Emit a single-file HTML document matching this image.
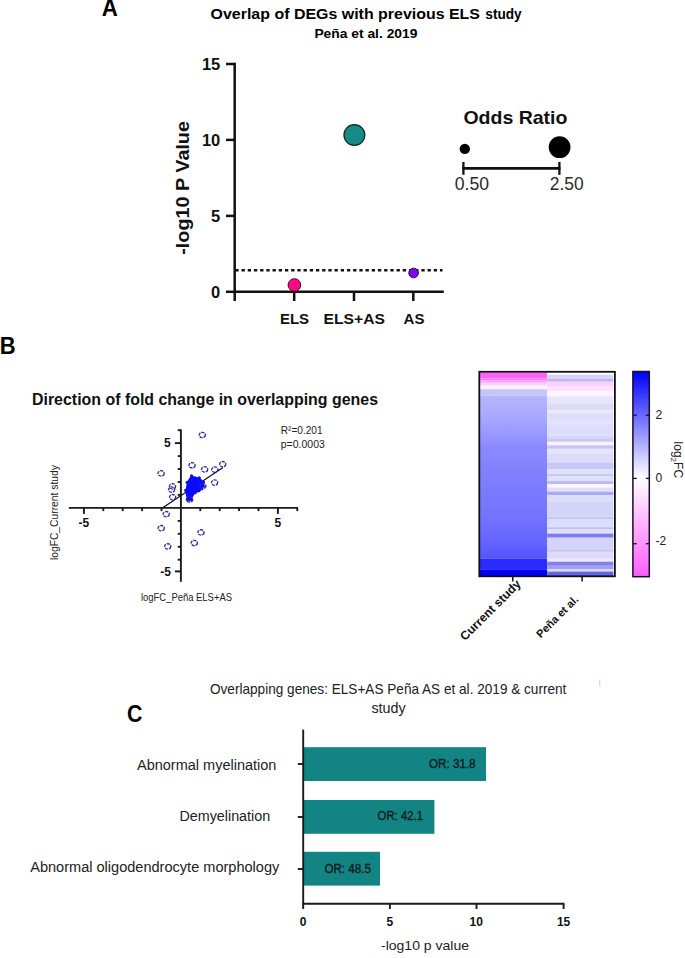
<!DOCTYPE html>
<html><head><meta charset="utf-8"><title>Figure</title>
<style>
html,body{margin:0;padding:0;background:#fff;}
body{width:685px;height:958px;overflow:hidden;}
svg{display:block;font-family:"Liberation Sans", sans-serif;}
</style></head>
<body>
<svg width="685" height="958" viewBox="0 0 685 958">
<rect width="685" height="958" fill="#fff"/>
<text x="101.7" y="16.4" font-size="23" font-weight="bold" textLength="16.1" lengthAdjust="spacingAndGlyphs">A</text>
<text x="210.6" y="19.4" font-size="15.4" font-weight="bold" textLength="269.4" lengthAdjust="spacingAndGlyphs">Overlap of DEGs with previous ELS</text>
<text x="485.3" y="19.4" font-size="14" font-weight="bold" textLength="36.4" lengthAdjust="spacingAndGlyphs">study</text>
<text x="314.4" y="38" font-size="13" font-weight="bold" textLength="103" lengthAdjust="spacingAndGlyphs">Peña et al. 2019</text>
<g stroke="#111" stroke-width="2.5" fill="none">
<line x1="234.7" y1="62.8" x2="234.7" y2="301"/>
<line x1="233.5" y1="291.8" x2="443.8" y2="291.8"/>
<line x1="226" y1="291.8" x2="235" y2="291.8"/>
<line x1="226" y1="215.9" x2="235" y2="215.9"/>
<line x1="226" y1="139.9" x2="235" y2="139.9"/>
<line x1="226" y1="64.0" x2="235" y2="64.0"/>
<line x1="294.2" y1="291.8" x2="294.2" y2="301"/>
<line x1="354" y1="291.8" x2="354" y2="301"/>
<line x1="413.3" y1="291.8" x2="413.3" y2="301"/>
</g>
<text x="220.3" y="297.7" font-size="16.5" font-weight="bold" text-anchor="end" fill="#111">0</text>
<text x="220.3" y="221.8" font-size="16.5" font-weight="bold" text-anchor="end" fill="#111">5</text>
<text x="220.3" y="145.8" font-size="16.5" font-weight="bold" text-anchor="end" fill="#111">10</text>
<text x="220.3" y="69.9" font-size="16.5" font-weight="bold" text-anchor="end" fill="#111">15</text>
<line x1="234" y1="270.2" x2="442.5" y2="270.2" stroke="#111" stroke-width="2.5" stroke-dasharray="3.3 2.9" stroke-dashoffset="4.85"/>
<text x="294.5" y="324" font-size="15" font-weight="bold" text-anchor="middle" fill="#111">ELS</text>
<text x="414" y="324" font-size="15" font-weight="bold" text-anchor="middle" fill="#111">AS</text>
<text x="323.6" y="324" font-size="15.3" font-weight="bold" textLength="61.4" lengthAdjust="spacingAndGlyphs" fill="#111">ELS+AS</text>
<text transform="translate(189.3,187.9) rotate(-90)" x="0" y="0" font-size="18" font-weight="bold" text-anchor="middle" textLength="133.7" lengthAdjust="spacingAndGlyphs" fill="#111">-log10 P Value</text>
<circle cx="294.4" cy="285" r="6.3" fill="#ff0888" stroke="#3a0a22" stroke-width="1"/>
<circle cx="354.4" cy="135" r="10.4" fill="#178a86" stroke="#0e2a2a" stroke-width="1.3"/>
<circle cx="413.6" cy="273" r="4.8" fill="#7f08ee" stroke="#2a0a50" stroke-width="1"/>
<text x="463.4" y="123.9" font-size="18.6" font-weight="bold" textLength="104" lengthAdjust="spacingAndGlyphs" fill="#111">Odds Ratio</text>
<circle cx="464.8" cy="148.9" r="5.2" fill="#000"/>
<circle cx="559.6" cy="147.2" r="10.9" fill="#000"/>
<g stroke="#111" fill="none"><line x1="462.3" y1="168.4" x2="560.5" y2="168.4" stroke-width="2.7"/><line x1="463.4" y1="162" x2="463.4" y2="174.8" stroke-width="2.3"/><line x1="559.4" y1="162" x2="559.4" y2="174.8" stroke-width="2.3"/></g>
<text x="454.8" y="189.9" font-size="18" textLength="34.2" lengthAdjust="spacingAndGlyphs" fill="#2a2a2a">0.50</text>
<text x="549.8" y="189.9" font-size="18" textLength="33.9" lengthAdjust="spacingAndGlyphs" fill="#2a2a2a">2.50</text>
<text x="-0.3" y="353.7" font-size="23" font-weight="bold" textLength="15.9" lengthAdjust="spacingAndGlyphs">B</text>
<text x="32" y="405" font-size="16.5" font-weight="bold" textLength="346" lengthAdjust="spacingAndGlyphs" fill="#111">Direction of fold change in overlapping genes</text>
<g stroke="#1a1a1a" fill="none" stroke-width="1.9">
<line x1="180.9" y1="429.4" x2="180.9" y2="581.8"/>
<line x1="68.8" y1="507.9" x2="298" y2="507.9"/>
<line x1="83.9" y1="507.9" x2="83.9" y2="513.9"/>
<line x1="103.3" y1="507.9" x2="103.3" y2="511.1"/>
<line x1="122.7" y1="507.9" x2="122.7" y2="511.1"/>
<line x1="142.1" y1="507.9" x2="142.1" y2="511.1"/>
<line x1="161.5" y1="507.9" x2="161.5" y2="511.1"/>
<line x1="200.3" y1="507.9" x2="200.3" y2="511.1"/>
<line x1="219.7" y1="507.9" x2="219.7" y2="511.1"/>
<line x1="239.1" y1="507.9" x2="239.1" y2="511.1"/>
<line x1="258.5" y1="507.9" x2="258.5" y2="511.1"/>
<line x1="277.9" y1="507.9" x2="277.9" y2="513.9"/>
<line x1="297.3" y1="507.9" x2="297.3" y2="511.1"/>
<line x1="174.9" y1="571.4" x2="180.9" y2="571.4"/>
<line x1="177.7" y1="559.7" x2="180.9" y2="559.7"/>
<line x1="177.7" y1="546.8" x2="180.9" y2="546.8"/>
<line x1="177.7" y1="533.8" x2="180.9" y2="533.8"/>
<line x1="177.7" y1="520.9" x2="180.9" y2="520.9"/>
<line x1="177.7" y1="494.9" x2="180.9" y2="494.9"/>
<line x1="177.7" y1="482.0" x2="180.9" y2="482.0"/>
<line x1="177.7" y1="469.0" x2="180.9" y2="469.0"/>
<line x1="177.7" y1="456.1" x2="180.9" y2="456.1"/>
<line x1="174.9" y1="443.1" x2="180.9" y2="443.1"/>
<line x1="177.7" y1="430.2" x2="180.9" y2="430.2"/>
</g>
<text x="83.9" y="527" font-size="12" font-weight="bold" text-anchor="middle" fill="#111">-5</text>
<text x="277.9" y="527" font-size="12" font-weight="bold" text-anchor="middle" fill="#111">5</text>
<text x="170.6" y="447.4" font-size="12" font-weight="bold" text-anchor="end" fill="#111">5</text>
<text x="171" y="575.7" font-size="12" font-weight="bold" text-anchor="end" fill="#111">-5</text>
<text x="141" y="600.6" font-size="11" textLength="91" lengthAdjust="spacingAndGlyphs" fill="#222">logFC_Peña ELS+AS</text>
<text transform="translate(57.8,512.6) rotate(-90)" font-size="11" text-anchor="middle" textLength="95" lengthAdjust="spacingAndGlyphs" fill="#222">logFC_Current study</text>
<text x="280.8" y="434" font-size="11.5" textLength="41.7" lengthAdjust="spacingAndGlyphs" fill="#222">R²=0.201</text>
<text x="280.8" y="448" font-size="11.5" textLength="44" lengthAdjust="spacingAndGlyphs" fill="#222">p=0.0003</text>
<line x1="161.6" y1="508.6" x2="223" y2="467.4" stroke="#111" stroke-width="1.2"/>
<path d="M191.8,475.8 L195.3,476.4 L199.4,477.8 L201.7,479.6 L203.4,482.5 L205.2,486.6 L202.3,488.4 L199.9,491.9 L195.3,493 L193.5,496 L191.2,500 L189.4,501.5 L187.1,499.5 L185.9,495.4 L185.6,490.7 L186.2,486 L187.1,481.9 L189.4,477.8 Z" fill="#0a0aff"/>
<circle cx="191.5" cy="475.8" r="1.6" fill="#0a0aff"/>
<circle cx="199.3" cy="477.9" r="1.6" fill="#0a0aff"/>
<circle cx="203.5" cy="482.1" r="1.6" fill="#0a0aff"/>
<circle cx="201.8" cy="488.7" r="1.6" fill="#0a0aff"/>
<circle cx="195.1" cy="492.7" r="1.6" fill="#0a0aff"/>
<circle cx="191.7" cy="500.0" r="1.6" fill="#0a0aff"/>
<circle cx="187.4" cy="499.5" r="1.6" fill="#0a0aff"/>
<circle cx="185.7" cy="490.4" r="1.6" fill="#0a0aff"/>
<circle cx="187.2" cy="482.3" r="1.6" fill="#0a0aff"/>
<ellipse cx="202.3" cy="435" rx="3.1" ry="2.7" fill="none" stroke="#2c2ca4" stroke-width="1.35" stroke-dasharray="3.2 0.9"/>
<ellipse cx="192.1" cy="465.3" rx="3.1" ry="2.7" fill="none" stroke="#2c2ca4" stroke-width="1.35" stroke-dasharray="3.2 0.9"/>
<ellipse cx="204.6" cy="469.4" rx="3.1" ry="2.7" fill="none" stroke="#2c2ca4" stroke-width="1.35" stroke-dasharray="3.2 0.9"/>
<ellipse cx="214.8" cy="469.6" rx="3.1" ry="2.7" fill="none" stroke="#2c2ca4" stroke-width="1.35" stroke-dasharray="3.2 0.9"/>
<ellipse cx="222.7" cy="464.2" rx="3.1" ry="2.7" fill="none" stroke="#2c2ca4" stroke-width="1.35" stroke-dasharray="3.2 0.9"/>
<ellipse cx="161.1" cy="473.4" rx="3.1" ry="2.7" fill="none" stroke="#2c2ca4" stroke-width="1.35" stroke-dasharray="3.2 0.9"/>
<ellipse cx="214.6" cy="482.6" rx="3.1" ry="2.7" fill="none" stroke="#2c2ca4" stroke-width="1.35" stroke-dasharray="3.2 0.9"/>
<ellipse cx="172.5" cy="486.4" rx="3.1" ry="2.7" fill="none" stroke="#2c2ca4" stroke-width="1.35" stroke-dasharray="3.2 0.9"/>
<ellipse cx="171.6" cy="489.6" rx="3.1" ry="2.7" fill="none" stroke="#2c2ca4" stroke-width="1.35" stroke-dasharray="3.2 0.9"/>
<ellipse cx="172.6" cy="497.2" rx="3.1" ry="2.7" fill="none" stroke="#2c2ca4" stroke-width="1.35" stroke-dasharray="3.2 0.9"/>
<ellipse cx="189.5" cy="499.5" rx="3.1" ry="2.7" fill="none" stroke="#2c2ca4" stroke-width="1.35" stroke-dasharray="3.2 0.9"/>
<ellipse cx="202.9" cy="486" rx="3.1" ry="2.7" fill="none" stroke="#2c2ca4" stroke-width="1.35" stroke-dasharray="3.2 0.9"/>
<ellipse cx="166.2" cy="514.2" rx="3.1" ry="2.7" fill="none" stroke="#2c2ca4" stroke-width="1.35" stroke-dasharray="3.2 0.9"/>
<ellipse cx="161.2" cy="528.2" rx="3.1" ry="2.7" fill="none" stroke="#2c2ca4" stroke-width="1.35" stroke-dasharray="3.2 0.9"/>
<ellipse cx="167.7" cy="546.4" rx="3.1" ry="2.7" fill="none" stroke="#2c2ca4" stroke-width="1.35" stroke-dasharray="3.2 0.9"/>
<ellipse cx="201" cy="532.4" rx="3.1" ry="2.7" fill="none" stroke="#2c2ca4" stroke-width="1.35" stroke-dasharray="3.2 0.9"/>
<ellipse cx="194.3" cy="543" rx="3.1" ry="2.7" fill="none" stroke="#2c2ca4" stroke-width="1.35" stroke-dasharray="3.2 0.9"/>
<rect x="479.4" y="372.6" width="67.8" height="5.8" fill="#ff62ff"/>
<rect x="479.4" y="378.4" width="67.8" height="2.2" fill="#ff7cff"/>
<rect x="479.4" y="380.6" width="67.8" height="2.2" fill="#ffa4ff"/>
<rect x="479.4" y="382.8" width="67.8" height="2.8" fill="#ffd0ff"/>
<rect x="479.4" y="385.6" width="67.8" height="3.6" fill="#fff2ff"/>
<rect x="479.4" y="389.2" width="67.8" height="6.3" fill="#c4c6ff"/>
<defs><linearGradient id="lg" x1="0" y1="0" x2="0" y2="1"><stop offset="0" stop-color="#b6b6fc"/><stop offset="0.132" stop-color="#a8a8fe"/><stop offset="0.211" stop-color="#9c9cff"/><stop offset="0.321" stop-color="#8a8aff"/><stop offset="0.517" stop-color="#7e7eff"/><stop offset="0.762" stop-color="#7272ff"/><stop offset="0.915" stop-color="#6262ff"/><stop offset="1" stop-color="#5454ff"/></linearGradient>
<linearGradient id="cb" x1="0" y1="0" x2="0" y2="1"><stop offset="0" stop-color="#0000ff"/><stop offset="0.5196" stop-color="#ffffff"/><stop offset="1" stop-color="#ff5cff"/></linearGradient></defs>
<rect x="479.4" y="395.5" width="67.8" height="163.3" fill="url(#lg)"/>
<rect x="479.4" y="558.8" width="67.8" height="10.5" fill="#2a2aff"/>
<rect x="479.4" y="569.3" width="67.8" height="6.8" fill="#0000ff"/>
<rect x="547.2" y="372.6" width="66.2" height="2.10" fill="#ffffff"/>
<rect x="547.2" y="374.7" width="66.2" height="4.10" fill="#d4d4fa"/>
<rect x="547.2" y="378.8" width="66.2" height="2.90" fill="#bcb4f0"/>
<rect x="547.2" y="381.7" width="66.2" height="4.30" fill="#ffd0ff"/>
<rect x="547.2" y="386" width="66.2" height="5.00" fill="#ffe0ff"/>
<rect x="547.2" y="391" width="66.2" height="5.30" fill="#fff4ff"/>
<rect x="547.2" y="396.3" width="66.2" height="7.00" fill="#e6e6fc"/>
<rect x="547.2" y="403.3" width="66.2" height="7.00" fill="#dcdcfa"/>
<rect x="547.2" y="410.3" width="66.2" height="2.90" fill="#e8e8fc"/>
<rect x="547.2" y="413.2" width="66.2" height="5.80" fill="#dedefa"/>
<rect x="547.2" y="419" width="66.2" height="6.00" fill="#e2e2fc"/>
<rect x="547.2" y="425" width="66.2" height="10.40" fill="#dcdcfc"/>
<rect x="547.2" y="435.4" width="66.2" height="2.90" fill="#d6d6fa"/>
<rect x="547.2" y="438.3" width="66.2" height="3.50" fill="#c8c8f8"/>
<rect x="547.2" y="441.8" width="66.2" height="3.50" fill="#fff0ff"/>
<rect x="547.2" y="445.3" width="66.2" height="3.50" fill="#c4c4f6"/>
<rect x="547.2" y="448.8" width="66.2" height="5.20" fill="#e4e4fc"/>
<rect x="547.2" y="454" width="66.2" height="8.30" fill="#dcdcfa"/>
<rect x="547.2" y="462.3" width="66.2" height="7.00" fill="#c8c8f8"/>
<rect x="547.2" y="469.3" width="66.2" height="4.80" fill="#e0e0fc"/>
<rect x="547.2" y="474.1" width="66.2" height="2.30" fill="#c4c4f6"/>
<rect x="547.2" y="476.4" width="66.2" height="4.70" fill="#e0e0fc"/>
<rect x="547.2" y="481.1" width="66.2" height="2.90" fill="#b8b8f4"/>
<rect x="547.2" y="484" width="66.2" height="3.50" fill="#fff4ff"/>
<rect x="547.2" y="487.5" width="66.2" height="4.10" fill="#e0e0fc"/>
<rect x="547.2" y="491.6" width="66.2" height="3.50" fill="#a8a8f4"/>
<rect x="547.2" y="495.1" width="66.2" height="6.40" fill="#dcdcfc"/>
<rect x="547.2" y="501.5" width="66.2" height="15.20" fill="#d4d4fa"/>
<rect x="547.2" y="516.7" width="66.2" height="2.30" fill="#c8c8f8"/>
<rect x="547.2" y="519" width="66.2" height="8.20" fill="#dcdcfc"/>
<rect x="547.2" y="527.2" width="66.2" height="2.40" fill="#c0c0f6"/>
<rect x="547.2" y="529.6" width="66.2" height="4.00" fill="#e0e0fc"/>
<rect x="547.2" y="533.6" width="66.2" height="4.10" fill="#7c7cf0"/>
<rect x="547.2" y="537.7" width="66.2" height="11.70" fill="#d4d4fa"/>
<rect x="547.2" y="549.4" width="66.2" height="2.40" fill="#c4c4f8"/>
<rect x="547.2" y="551.8" width="66.2" height="7.00" fill="#dcdcfa"/>
<rect x="547.2" y="558.8" width="66.2" height="2.90" fill="#f4e4fc"/>
<rect x="547.2" y="561.7" width="66.2" height="4.10" fill="#8080f0"/>
<rect x="547.2" y="565.8" width="66.2" height="3.50" fill="#a0a0f4"/>
<rect x="547.2" y="569.3" width="66.2" height="2.30" fill="#d8d8fc"/>
<rect x="547.2" y="571.6" width="66.2" height="4.50" fill="#6464e8"/>
<rect x="479.3" y="371.8" width="135.6" height="204.5" fill="none" stroke="#111" stroke-width="1.8"/>
<g stroke="#111" stroke-width="1.5"><line x1="512.8" y1="576" x2="512.8" y2="581.5"/><line x1="582.1" y1="576" x2="582.1" y2="581.5"/></g>
<text transform="translate(521.6,584.8) rotate(-45)" font-size="12.2" font-weight="bold" text-anchor="end" fill="#111">Current study</text>
<text transform="translate(579.2,600) rotate(-45)" font-size="11" font-weight="bold" text-anchor="end" fill="#111">Peña et al.</text>
<rect x="632.9" y="371.5" width="16.4" height="205.2" fill="url(#cb)" stroke="#1a0a2a" stroke-width="1.5"/>
<line x1="633.2" y1="415.2" x2="636.8" y2="415.2" stroke="#1a0a2a" stroke-width="1.3"/><line x1="645.8" y1="415.2" x2="649.4" y2="415.2" stroke="#1a0a2a" stroke-width="1.3"/>
<line x1="633.2" y1="478.4" x2="636.8" y2="478.4" stroke="#1a0a2a" stroke-width="1.3"/><line x1="645.8" y1="478.4" x2="649.4" y2="478.4" stroke="#1a0a2a" stroke-width="1.3"/>
<line x1="633.2" y1="543.7" x2="636.8" y2="543.7" stroke="#1a0a2a" stroke-width="1.3"/><line x1="645.8" y1="543.7" x2="649.4" y2="543.7" stroke="#1a0a2a" stroke-width="1.3"/>
<text x="655.6" y="418.6" font-size="12" fill="#222">2</text>
<text x="655.6" y="482.0" font-size="12" fill="#222">0</text>
<text x="655.6" y="545.1" font-size="12" fill="#222">-2</text>
<text transform="translate(673.5,441.6) rotate(90)" font-size="12" fill="#222">log<tspan font-size="8" dy="3">2</tspan><tspan dy="-3">FC</tspan></text>
<text x="127.1" y="722" font-size="23" font-weight="bold" textLength="15.4" lengthAdjust="spacingAndGlyphs">C</text>
<text x="210" y="694" font-size="14.5" textLength="356.4" lengthAdjust="spacingAndGlyphs" fill="#222">Overlapping genes: ELS+AS Peña AS et al. 2019 &amp; current</text>
<text x="371.4" y="713.4" font-size="14.5" textLength="34.2" lengthAdjust="spacingAndGlyphs" fill="#222">study</text>
<g fill="#138484">
<rect x="304" y="747.2" width="182" height="33.8"/>
<rect x="304" y="800" width="130.39999999999998" height="33.8"/>
<rect x="304" y="851.8" width="76" height="33.8"/>
</g>
<g stroke="#1a1a1a" stroke-width="1.9" fill="none">
<line x1="303.2" y1="729.6" x2="303.2" y2="909"/>
<line x1="302.3" y1="903.8" x2="564.4" y2="903.8"/>
<line x1="297.8" y1="764" x2="303.2" y2="764"/>
<line x1="297.8" y1="817" x2="303.2" y2="817"/>
<line x1="297.8" y1="869" x2="303.2" y2="869"/>
<line x1="389.9" y1="903.8" x2="389.9" y2="909"/>
<line x1="476.5" y1="903.8" x2="476.5" y2="909"/>
<line x1="563.6" y1="903.8" x2="563.6" y2="909"/>
</g>
<text x="303" y="925.6" font-size="12" font-weight="bold" text-anchor="middle" fill="#111">0</text>
<text x="389.9" y="925.6" font-size="12" font-weight="bold" text-anchor="middle" fill="#111">5</text>
<text x="476.3" y="925.6" font-size="12" font-weight="bold" text-anchor="middle" fill="#111">10</text>
<text x="563.6" y="925.6" font-size="12" font-weight="bold" text-anchor="middle" fill="#111">15</text>
<text x="381" y="950.4" font-size="13" textLength="88" lengthAdjust="spacingAndGlyphs" fill="#222">-log10 p value</text>
<text x="137" y="770.2" font-size="14" textLength="139.4" lengthAdjust="spacingAndGlyphs" fill="#222">Abnormal myelination</text>
<text x="179.4" y="821" font-size="14" textLength="90.8" lengthAdjust="spacingAndGlyphs" fill="#222">Demyelination</text>
<text x="30.2" y="871.5" font-size="14" textLength="249.1" lengthAdjust="spacingAndGlyphs" fill="#222">Abnormal oligodendrocyte morphology</text>
<text x="429" y="768" font-size="12.5" textLength="46.6" lengthAdjust="spacingAndGlyphs" fill="#0c1a1a" stroke="#0c1a1a" stroke-width="0.35">OR: 31.8</text>
<text x="377.6" y="820" font-size="12.5" textLength="45.4" lengthAdjust="spacingAndGlyphs" fill="#0c1a1a" stroke="#0c1a1a" stroke-width="0.35">OR: 42.1</text>
<text x="324.4" y="873" font-size="12.5" textLength="46.6" lengthAdjust="spacingAndGlyphs" fill="#0c1a1a" stroke="#0c1a1a" stroke-width="0.35">OR: 48.5</text>
<line x1="599.8" y1="679.4" x2="599.8" y2="686.6" stroke="#d0d0d0" stroke-width="1"/>
</svg>
</body></html>
